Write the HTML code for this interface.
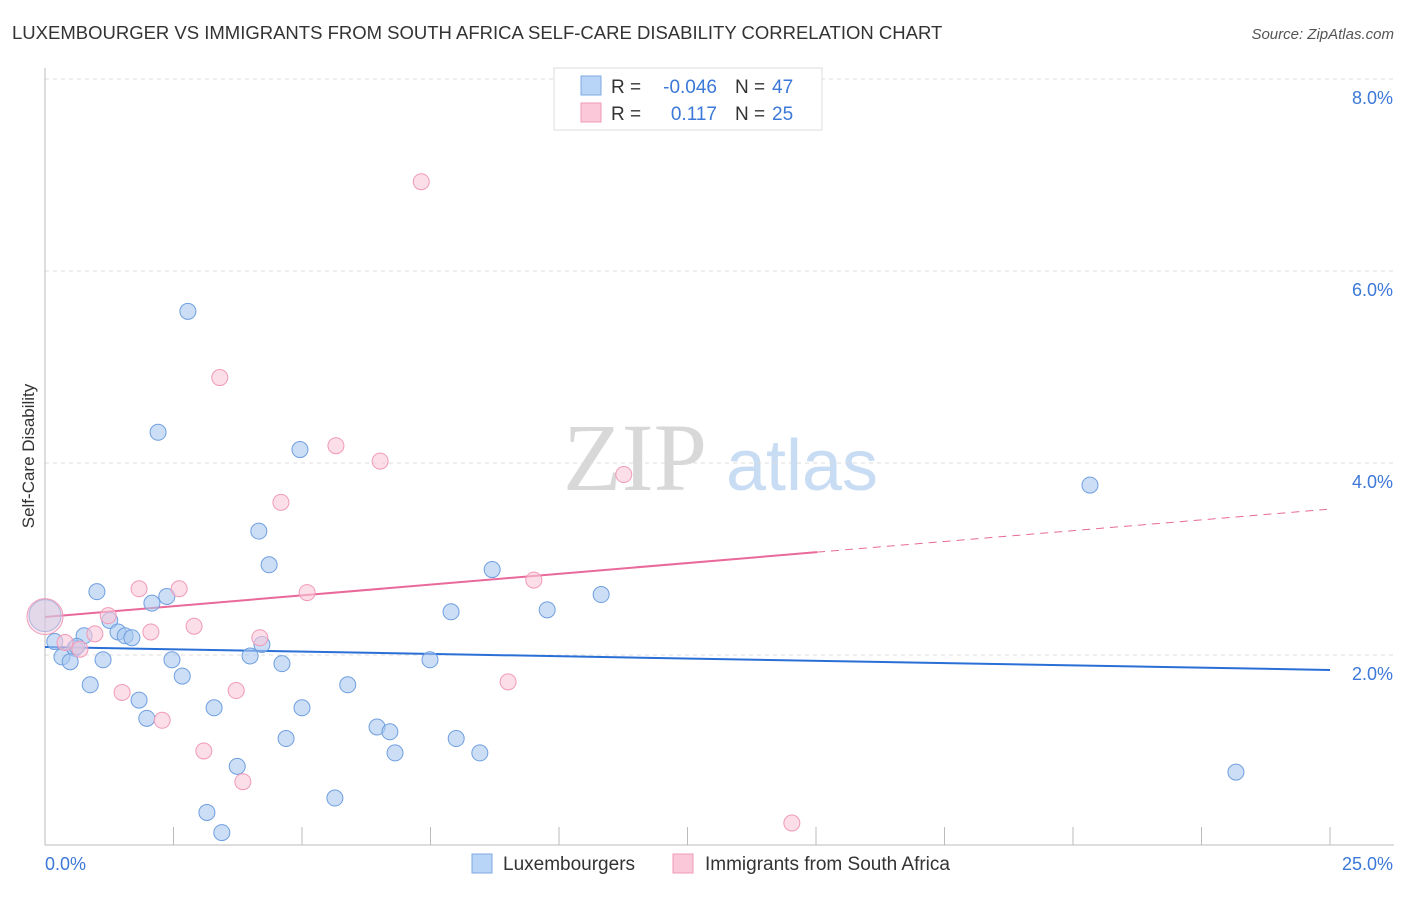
<!DOCTYPE html>
<html><head><meta charset="utf-8"><style>
body{margin:0;background:#fff;font-family:"Liberation Sans",sans-serif;}
svg text{font-family:"Liberation Sans",sans-serif;}
</style></head><body>
<svg id="chart" width="1406" height="892" xmlns="http://www.w3.org/2000/svg">
<text x="12" y="39" font-size="18.5" fill="#333">LUXEMBOURGER VS IMMIGRANTS FROM SOUTH AFRICA SELF-CARE DISABILITY CORRELATION CHART</text>
<text x="1394" y="39" font-size="15" fill="#555" text-anchor="end" font-style="italic">Source: ZipAtlas.com</text>
<text x="34" y="456" font-size="17" fill="#333" text-anchor="middle" transform="rotate(-90 34 456)">Self-Care Disability</text>
<g>
<text x="635" y="490" font-size="96" fill="#d8d8d8" text-anchor="middle" style="font-family:'Liberation Serif',serif">ZIP</text>
<text x="802" y="490" font-size="72" fill="#c8dcf4" text-anchor="middle">atlas</text>
</g>
<g id="grid"></g>
<g id="axes"></g>
<g id="lines"></g>
<g id="points"></g>
<g>
<rect x="554" y="68" width="268" height="62" fill="#fff" stroke="#ddd"/>
<rect x="581" y="76" width="20" height="19" fill="#b8d4f6" stroke="#7ea9e0"/>
<rect x="581" y="103" width="20" height="19" fill="#fac8d8" stroke="#f09ab8"/>
<text x="611" y="93" font-size="19" fill="#333">R =</text>
<text x="717" y="93" font-size="19" fill="#3b78d8" text-anchor="end">-0.046</text>
<text x="735" y="93" font-size="19" fill="#333">N =</text>
<text x="772" y="93" font-size="19" fill="#3b78d8">47</text>
<text x="611" y="120" font-size="19" fill="#333">R =</text>
<text x="717" y="120" font-size="19" fill="#3b78d8" text-anchor="end">0.117</text>
<text x="735" y="120" font-size="19" fill="#333">N =</text>
<text x="772" y="120" font-size="19" fill="#3b78d8">25</text>
</g>
<g>
<rect x="472" y="854" width="20" height="19" fill="#b8d4f6" stroke="#7ea9e0"/>
<text x="503" y="870" font-size="19" fill="#333">Luxembourgers</text>
<rect x="673" y="854" width="20" height="19" fill="#fac8d8" stroke="#f09ab8"/>
<text x="705" y="870" font-size="19" fill="#333">Immigrants from South Africa</text>
</g>
</svg>
<script>
const blueX=[2.78,2.20,4.96,20.33,4.16,4.36,8.70,1.01,2.37,10.82,2.08,9.77,7.90,1.26,1.42,1.56,1.69,0.76,0.19,0.58,4.22,0.33,0.49,1.13,2.47,3.99,4.61,7.49,2.67,0.88,5.89,1.83,3.29,5.00,1.98,6.46,6.71,4.69,8.00,8.46,6.81,3.74,23.17,5.64,3.15,3.44,0.62];
const blueY=[5.58,4.32,4.14,3.77,3.29,2.94,2.89,2.66,2.61,2.63,2.54,2.47,2.45,2.36,2.24,2.20,2.18,2.20,2.14,2.07,2.11,1.98,1.93,1.95,1.95,1.99,1.91,1.95,1.78,1.69,1.69,1.53,1.45,1.45,1.34,1.25,1.20,1.13,1.13,0.98,0.98,0.84,0.78,0.51,0.36,0.15,2.09];
const pinkX=[7.32,3.40,5.66,6.52,11.26,4.59,1.83,2.61,5.10,9.51,1.23,2.90,2.06,0.97,4.18,0.39,0.68,9.01,1.50,3.72,2.28,3.09,3.85,14.53];
const pinkY=[6.93,4.89,4.18,4.02,3.88,3.59,2.69,2.69,2.65,2.78,2.41,2.30,2.24,2.22,2.18,2.13,2.06,1.72,1.61,1.63,1.32,1.00,0.68,0.25];
const bigBlue=[0,2.41], bigPink=[0,2.40];
const blueTrend=[2.083,1.844];
const pinkTrend=[2.396,3.52];
const pinkSolidEnd=15.02;
const yTicks=[2,4,6,8];
const yTickLabels=["2.0%","4.0%","6.0%","8.0%"];
const xTickLabels=["0.0%","25.0%"];
const NS="http://www.w3.org/2000/svg";
const sx=v=>45+v*51.4, sy=v=>847-v*96;
function mk(tag,attrs,parent){const e=document.createElementNS(NS,tag);for(const k in attrs)e.setAttribute(k,attrs[k]);document.getElementById(parent).appendChild(e);return e;}
yTicks.forEach((t,i)=>{
 const g=mk('line',{x1:45,x2:1394,y1:sy(t),y2:sy(t),stroke:'#ddd','stroke-dasharray':'4,4'},'grid');
 
 
 const l=mk('text',{x:1393,y:sy(t)+25,'font-size':18,fill:'#3b78d8','text-anchor':'end'},'grid');
 l.textContent=yTickLabels[i];
 
 
});
const ax=mk('line',{x1:45,x2:1394,y1:845,y2:845,stroke:'#bbb'},'axes');


const ay=mk('line',{x1:45,x2:45,y1:68,y2:845,stroke:'#bbb'},'axes');


for(let i=0;i<=10;i++){
 const t=mk('line',{x1:sx(i*2.5),x2:sx(i*2.5),y1:827,y2:845,stroke:'#bbb'},'axes');
 
 
}
const xl0=mk('text',{x:45,y:870,'font-size':18,fill:'#3b78d8'},'axes');xl0.textContent=xTickLabels[0];


const xl1=mk('text',{x:1393,y:870,'font-size':18,fill:'#3b78d8','text-anchor':'end'},'axes');xl1.textContent=xTickLabels[1];


const ty=(tr,x)=>tr[0]+(tr[1]-tr[0])*x/25;
const bl=mk('line',{x1:sx(0),y1:sy(ty(blueTrend,0)),x2:sx(25),y2:sy(ty(blueTrend,25)),stroke:'#2a6fd6','stroke-width':2},'lines');


const pl=mk('line',{x1:sx(0),y1:sy(ty(pinkTrend,0)),x2:sx(pinkSolidEnd),y2:sy(ty(pinkTrend,pinkSolidEnd)),stroke:'#e8699a','stroke-width':2},'lines');


const pd=mk('line',{x1:sx(pinkSolidEnd),y1:sy(ty(pinkTrend,pinkSolidEnd)),x2:sx(24.94),y2:sy(ty(pinkTrend,24.94)),stroke:'#e8699a','stroke-width':1,'stroke-dasharray':'8,6'},'lines');


const bb=mk('circle',{cx:sx(bigBlue[0]),cy:sy(bigBlue[1]),r:16,fill:'rgba(168,200,240,0.5)',stroke:'#7ea9e0'},'points');


const bp=mk('circle',{cx:sx(bigPink[0]),cy:sy(bigPink[1]),r:18,fill:'rgba(250,200,216,0.4)',stroke:'#f09ab8'},'points');


blueX.forEach((x,i)=>{
 const c=mk('circle',{cx:sx(x),cy:sy(blueY[i]),r:8,fill:'rgba(168,200,240,0.6)',stroke:'#6f9fe0','stroke-width':1},'points');
 
 
});
pinkX.forEach((x,i)=>{
 const c=mk('circle',{cx:sx(x),cy:sy(pinkY[i]),r:8,fill:'rgba(250,200,216,0.6)',stroke:'#f09ab8','stroke-width':1},'points');
 
 
});
</script>
</body></html>
